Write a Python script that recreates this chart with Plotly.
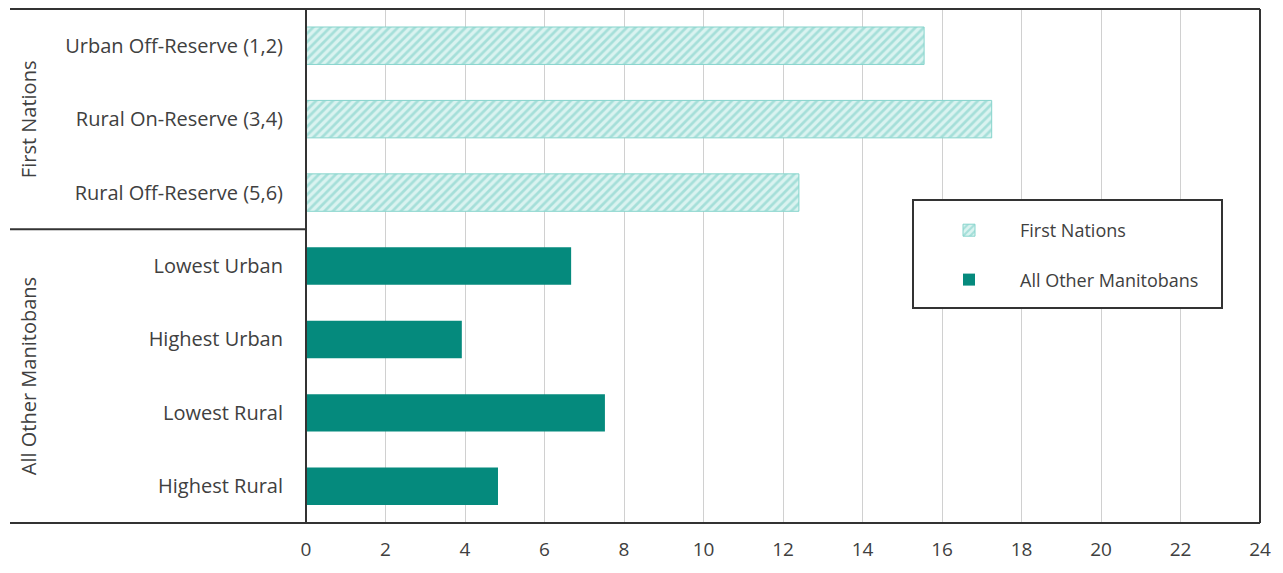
import plotly.graph_objects as go

fn_cats = ["Urban Off-Reserve (1,2)", "Rural On-Reserve (3,4)", "Rural Off-Reserve (5,6)"]
fn_vals = [15.55, 17.25, 12.4]
om_cats = ["Lowest Urban", "Highest Urban", "Lowest Rural", "Highest Rural"]
om_vals = [6.67, 3.92, 7.52, 4.83]
group_labels = ["First Nations", "All Other Manitobans"]
x_ticks = list(range(0, 25, 2))

# page has an 8px body margin, so the figure is drawn at (8, 8)
W, H = 1275, 565
L, R, T, B = 298, 23, 1, 50
PW, PH = W - L - R, H - T - B
FONT = "Open Sans"
TXT = "#404040"
LINE = "#333333"


def px(fx):
    return (fx - 8 - L) / PW


def py(fy):
    return (H - B - (fy - 8)) / PH


fig = go.Figure()
fig.add_trace(go.Bar(
    y=fn_cats, x=fn_vals, orientation="h", name="First Nations",
    width=0.51, legendgroup="a",
    marker=dict(color="#daf3f0", line=dict(color="#86d4cc", width=1),
                pattern=dict(shape="/", fgcolor="#6fcbc2", bgcolor="#daf3f0",
                             size=6, solidity=0.45)),
))
fig.add_trace(go.Bar(
    y=om_cats, x=om_vals, orientation="h", name="All Other Manitobans",
    width=0.51, legendgroup="b",
    marker=dict(color="#058a7d", line=dict(color="#058a7d", width=0)),
))

cats = fn_cats + om_cats
fig.update_layout(
    width=W, height=H, margin=dict(l=L, r=R, t=T, b=B, autoexpand=False),
    paper_bgcolor="white", plot_bgcolor="white",
    barmode="overlay",
    font=dict(family=FONT, size=20, color=TXT),
    xaxis=dict(range=[0, 24], tickvals=x_ticks, showgrid=True, gridcolor="#d0d0d0",
               gridwidth=1, zeroline=False, showline=False, ticks="",
               tickfont=dict(size=19, color=TXT), ticklabelstandoff=13),
    yaxis=dict(categoryorder="array", categoryarray=cats[::-1], range=[-0.5, 6.5],
               showgrid=False, zeroline=False, showline=False, ticks="",
               tickfont=dict(size=20, color=TXT), ticklabelstandoff=22),
    legend=dict(x=px(918), y=py(212), xanchor="left", yanchor="top",
                borderwidth=0, bgcolor="rgba(0,0,0,0)",
                font=dict(size=18, color=TXT), traceorder="grouped",
                tracegroupgap=23, itemwidth=92),
    showlegend=True,
)

line = dict(color=LINE, width=2)
# legend box
fig.add_shape(type="rect", xref="paper", yref="paper", x0=px(913), x1=px(1222),
              y0=py(308), y1=py(200), line=line, fillcolor="white", layer="above")
# frame lines
x_left = px(10)
fig.add_shape(type="line", xref="paper", yref="paper", x0=x_left, x1=1, y0=1, y1=1, line=line)
fig.add_shape(type="line", xref="paper", yref="paper", x0=x_left, x1=1, y0=0, y1=0, line=line)
fig.add_shape(type="line", xref="paper", yref="paper", x0=0, x1=0, y0=0, y1=1, line=line)
fig.add_shape(type="line", xref="paper", yref="paper", x0=1, x1=1, y0=0, y1=1, line=line)
fig.add_shape(type="line", xref="paper", yref="y", x0=x_left, x1=0, y0=3.5, y1=3.5, line=line)

for label, yc in zip(group_labels, [5, 1.5]):
    fig.add_annotation(text=label, xref="paper", yref="y", x=px(28), y=yc, textangle=-90,
                       xanchor="center", yanchor="middle",
                       showarrow=False, font=dict(size=20, color=TXT))

fig.write_html("out.html")
